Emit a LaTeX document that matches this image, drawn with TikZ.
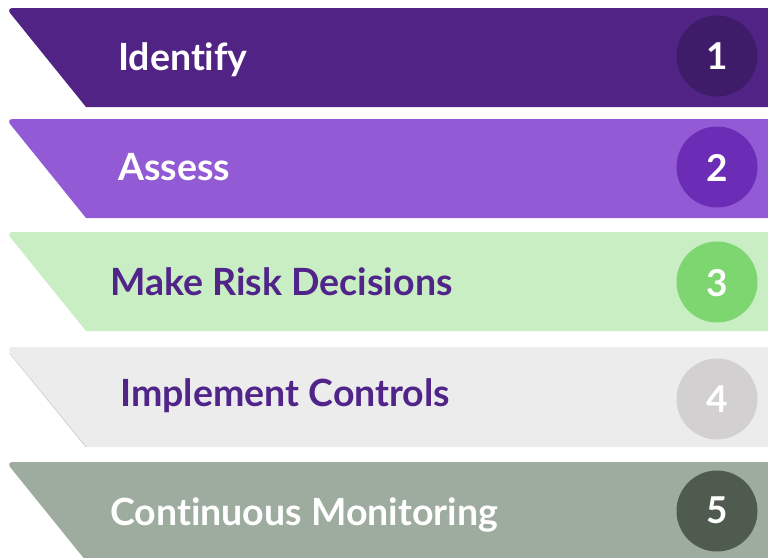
\documentclass[tikz,border=0pt]{standalone}
\usepackage{fontspec}
\setmainfont{Lato}[Ligatures=NoCommon]
\begin{document}
\begin{tikzpicture}[x=1pt,y=-1pt,
  label/.style={anchor=base west,inner sep=0pt,font=\fontsize{37.5}{40}\selectfont\bfseries},
  num/.style={anchor=center,inner sep=0pt,text=white,font=\fontsize{37}{40}\selectfont\bfseries}]
\definecolor{bandA}{HTML}{512385}
\definecolor{dotA}{HTML}{3E1C69}
\definecolor{bandB}{HTML}{925BD5}
\definecolor{dotB}{HTML}{6B2DB6}
\definecolor{bandC}{HTML}{C9EEC4}
\definecolor{dotC}{HTML}{7DD66F}
\definecolor{bandD}{HTML}{ECECEC}
\definecolor{dotD}{HTML}{D2D0D1}
\definecolor{bandE}{HTML}{9DAC9E}
\definecolor{dotE}{HTML}{4E5B4E}
\definecolor{ink}{HTML}{51248A}
\useasboundingbox (0,0) rectangle (768,557);
% banner: top y, bottom y, fill colour
\newcommand\banner[3]{%
  \fill[#3] (800,#2) -- (800,#1) [rounded corners=7pt] -- (6,#1) [sharp corners] -- (86,#2) -- cycle;}
\begin{scope}
\clip (0,0) rectangle (768,557);
\banner{8}{107}{bandA}
\banner{119}{218}{bandB}
\banner{232}{331}{bandC}
\banner{347}{447}{bandD}
\draw[line width=0.7pt,color=black!20] (9.5,353) -- (86,447);
\banner{462}{561}{bandE}
\end{scope}
% step circles
\fill[dotA] (717,56) circle (40.5);
\fill[dotB] (717,167) circle (40.5);
\fill[dotC] (717,282) circle (40.5);
\fill[dotD] (717,399) circle (40.5);
\fill[dotE] (717,511) circle (40.5);
\node[num] (n1) at (717,56) {1};
\node[num] (n2) at (717,168) {2};
\node[num] (n3) at (717,283) {3};
\node[num] (n4) at (717,399) {4};
\node[num] (n5) at (717,510) {5};
% step names
\node[label,text=white] (t1) at (118,70) {Identify};
\node[label,text=white] (t2) at (118,180) {Assess};
\node[label,text=ink] (t3) at (110,295) {Make Risk Decisions};
\node[label,text=ink] (t4) at (120,406) {Implement Controls};
\node[label,text=white] (t5) at (110,525) {Continuous Monitoring};
\end{tikzpicture}
\end{document}
